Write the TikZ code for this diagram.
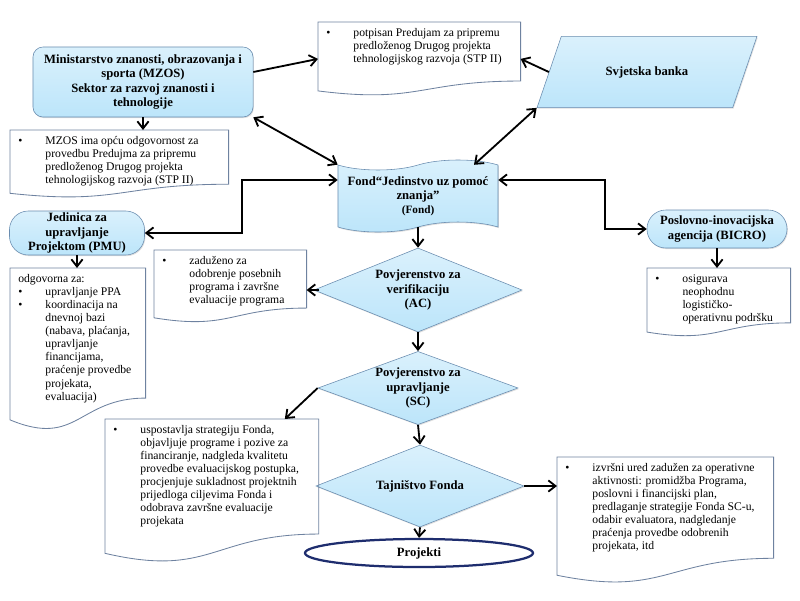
\documentclass[tikz,border=0pt]{standalone}
\usepackage{fontspec}
\setmainfont{Liberation Serif}
\usepackage{tikz}
\usetikzlibrary{shapes.geometric, shapes.misc, shapes.symbols, shadows, calc, arrows.meta}
\definecolor{boxblue}{RGB}{188, 229, 250}
\definecolor{boxedge}{RGB}{105, 140, 175}
\definecolor{docedge}{RGB}{110, 130, 160}
\definecolor{ovalnavy}{RGB}{30, 45, 110}
\tikzstyle{arrow}=[line width=1.3pt, ->, >={Straight Barb[length=1.8mm, width=2.8mm]}, color=black]
\tikzstyle{bluebox}=[draw=boxedge, top color=boxblue!55, bottom color=boxblue, align=center, font=\fontsize{9}{10}\selectfont\bfseries, drop shadow={opacity=0.25, shadow xshift=0.6pt, shadow yshift=-0.8pt}]
\tikzstyle{terminal}=[shape=rectangle, rounded corners=0.47cm, inner sep=1pt]
\tikzstyle{docbox}=[anchor=north west, inner xsep=0.2cm, inner ysep=0.15cm, font=\fontsize{8.3}{9.3}\selectfont]
\tikzstyle{docline}=[draw=docedge, line width=0.6pt]

\newcommand{\bitem}{\par\noindent\hangindent=0.68cm\makebox[0.68cm][l]{\textbullet}}
\newcommand{\doctext}[3]{\parbox[t][#2][t]{#1}{\rightskip=0pt plus 2em #3}}
\newcommand{\docwave}[1]{%
  \draw[docline] (#1.north west) -- (#1.north east)
    -- ($(#1.north east)!0.8!(#1.south east)$)
    .. controls ($(#1.north)!0.8!(#1.south)$) and ($(#1.north)!1.107!(#1.south)$)
    .. ($(#1.north west)!0.934!(#1.south west)$) -- cycle;}

\begin{document}
\begin{tikzpicture}[x=0.025cm, y=-0.025cm]
    \useasboundingbox (0,0) rectangle (800,600);

    % Main bodies
    \node[bluebox, shape=rectangle, rounded corners=0.25cm, minimum width=5.5cm, minimum height=1.75cm] (mzos) at (143,82) {Ministarstvo znanosti, obrazovanja i\\sporta (MZOS)\\Sektor za razvoj znanosti i\\tehnologije};
    \node[bluebox, trapezium, trapezium left angle=58, trapezium right angle=122, trapezium stretches=true, minimum width=5.5cm, minimum height=1.78cm] (bank) at (647,72) {Svjetska banka};
    \node[bluebox, tape, tape bend top=in and out, tape bend bottom=in and out, tape bend height=0.25cm, minimum width=4cm, minimum height=1.8cm] (fond) at (418,196) {Fond“Jedinstvo uz pomoć\\znanja”\\{\fontsize{8}{10}\selectfont(Fond)}};
    \node[bluebox, terminal, minimum width=3.375cm, minimum height=1.1cm] (pmu) at (77,233) {Jedinica za\\upravljanje\\Projektom (PMU)};
    \node[bluebox, terminal, minimum width=3.5cm, minimum height=0.95cm] (bicro) at (717,229) {Poslovno-inovacijska\\agencija (BICRO)};

    % Decision chain
    \node[bluebox, diamond, aspect=2.5, inner sep=0pt, minimum width=5.2cm, minimum height=2.1cm] (ac) at (418,290) {Povjerenstvo za\\verifikaciju\\(AC)};
    \node[bluebox, diamond, aspect=2.7, inner sep=0pt, minimum width=5cm, minimum height=1.83cm] (sc) at (418,388) {Povjerenstvo za\\upravljanje\\(SC)};
    \node[bluebox, diamond, aspect=2.5, inner sep=0pt, minimum width=5.2cm, minimum height=2.05cm] (taj) at (420,486) {Tajništvo Fonda};
    \node[shape=ellipse, draw=ovalnavy, line width=1.6pt, fill=white, inner sep=1pt, minimum width=5.7cm, minimum height=0.7cm, font=\fontsize{9}{10}\selectfont\bfseries] (proj) at (419,553) {Projekti};

    % Notes
    \node[docbox] (doc1) at (318,22) {\doctext{4.65cm}{1.53cm}{\bitem potpisan Predujam za pripremu\\predloženog Drugog projekta\\tehnologijskog razvoja (STP II)}};
    \node[docbox] (doc2) at (10,130) {\doctext{5.05cm}{1.38cm}{\bitem MZOS ima opću odgovornost za\\provedbu Predujma za pripremu\\predloženog Drugog projekta\\tehnologijskog razvoja (STP II)}};
    \node[docbox] (docpmu) at (10,268) {\doctext{2.975cm}{3.75cm}{odgovorna za:\bitem upravljanje PPA\bitem koordinacija na\\dnevnoj bazi\\(nabava, plaćanja,\\upravljanje\\financijama,\\praćenje provedbe\\projekata,\\evaluacija)}};
    \node[docbox] (docac) at (154,250) {\doctext{3.4cm}{1.5cm}{\bitem zaduženo za\\odobrenje posebnih\\programa i završne\\evaluacije programa}};
    \node[docbox] (docbicro) at (647,268) {\doctext{3.175cm}{1.4cm}{\bitem osigurava\\neophodnu\\logističko-\\operativnu podršku}};
    \node[docbox] (docsc) at (105,419) {\doctext{4.93cm}{3.28cm}{\bitem uspostavlja strategiju Fonda,\\objavljuje programe i pozive za\\financiranje, nadgleda kvalitetu\\provedbe evaluacijskog postupka,\\procjenjuje sukladnost projektnih\\prijedloga ciljevima Fonda i\\odobrava završne evaluacije\\projekata}};
    \node[docbox] (doctaj) at (557,457) {\doctext{5.0cm}{2.85cm}{\bitem izvršni ured zadužen za operativne\\aktivnosti: promidžba Programa,\\poslovni i financijski plan,\\predlaganje strategije Fonda SC-u,\\odabir evaluatora, nadgledanje\\praćenja provedbe odobrenih\\projekata, itd}};
    \docwave{doc1}
    \docwave{doc2}
    \docwave{docpmu}
    \docwave{docac}
    \docwave{docbicro}
    \docwave{docsc}
    \docwave{doctaj}

    % Links between bodies
    \draw[arrow] ([yshift=0.25cm]mzos.east) -- (doc1.west);
    \draw[arrow] (bank.west) -- (doc1.east);
    \draw[arrow, <->] (mzos.south east) -- (fond.north west);
    \draw[arrow, <->] (bank.bottom left corner) -- ([xshift=1.4cm]fond.north);
    \draw[arrow] (mzos.south) -- (mzos.south |- doc2.north);
    \coordinate (lknee) at (242,180);
    \draw[arrow, <->] (pmu.east) -| (lknee) -- (lknee -| fond.west);
    \coordinate (rknee) at (605,180);
    \draw[arrow, <->] (rknee -| fond.east) -- (rknee) |- (bicro.west);
    \draw[arrow] (pmu.south) -- (pmu.south |- docpmu.north);
    \draw[arrow] (bicro.south) -- (bicro.south |- docbicro.north);

    % Chain arrows
    \draw[arrow] (fond.south) -- (ac.north);
    \draw[arrow] ([xshift=4pt]ac.west) -- (ac.west -| docac.east);
    \draw[arrow] (ac.south) -- (sc.north);
    \draw[arrow] (sc.west) -- ([xshift=-0.85cm]docsc.north east);
    \draw[arrow] (sc.south) -- (taj.north);
    \draw[arrow] (taj.east) -- (taj.east -| doctaj.west);
    \draw[arrow] (taj.south) -- (proj.north);

\end{tikzpicture}
\end{document}
